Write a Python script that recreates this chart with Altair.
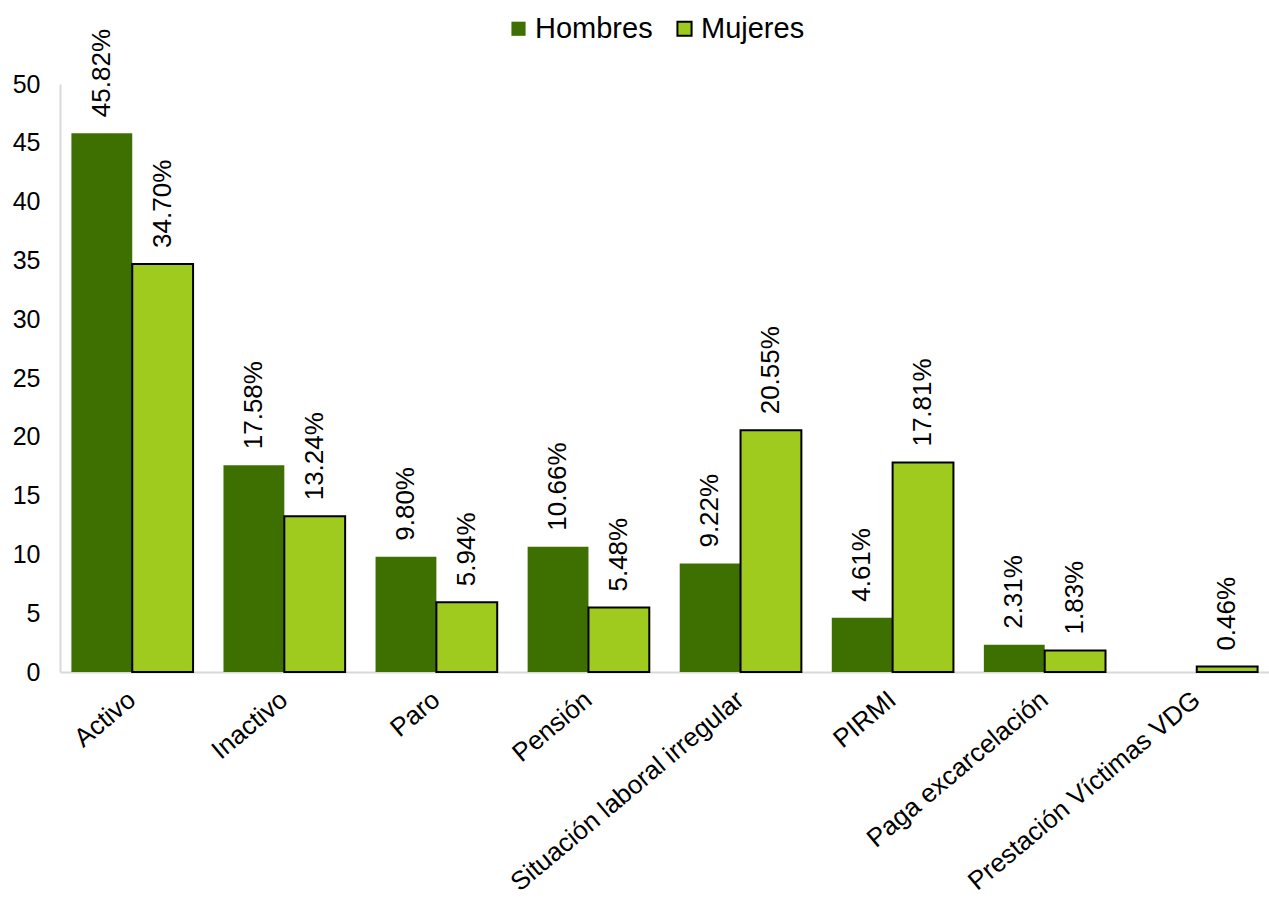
import altair as alt
import pandas as pd

categorias = ["Activo", "Inactivo", "Paro", "Pensión", "Situación laboral irregular",
              "PIRMI", "Paga excarcelación", "Prestación Víctimas VDG"]
hombres = [45.82, 17.58, 9.80, 10.66, 9.22, 4.61, 2.31, None]
mujeres = [34.70, 13.24, 5.94, 5.48, 20.55, 17.81, 1.83, 0.46]
series = ["Hombres", "Mujeres"]
colores = ["#3d7000", "#9ecb1e"]
bordes = ["transparent", "#000000"]

rows = []
for c, h, m in zip(categorias, hombres, mujeres):
    if h is not None:
        rows.append({"cat": c, "sexo": "Hombres", "valor": h})
    if m is not None:
        rows.append({"cat": c, "sexo": "Mujeres", "valor": m})
df = pd.DataFrame(rows)

FONT = "Liberation Sans"

xenc = alt.X("cat:N", sort=categorias, title=None,
             scale=alt.Scale(paddingInner=0.2, paddingOuter=0.075),
             axis=alt.Axis(labelAngle=-40, labelAlign="right", labelBaseline="middle",
                           labelFontSize=26, labelPadding=24, ticks=False,
                           domainColor="#d9d9d9", domainWidth=2, labelColor="#000",
                           labelFont=FONT, labelOverlap=False, labelLimit=0))
xoff = alt.XOffset("sexo:N", sort=series, scale=alt.Scale(paddingInner=0, paddingOuter=0))
yenc = alt.Y("valor:Q", title=None,
             scale=alt.Scale(domain=[0, 50], nice=False),
             axis=alt.Axis(values=list(range(0, 51, 5)), grid=False, ticks=False,
                           domainColor="#d9d9d9", domainWidth=2, labelFontSize=25,
                           labelFont=FONT, labelColor="#000", labelPadding=20))

leg = alt.Legend(title=None, orient="none", legendX=444, legendY=-70, direction="horizontal",
                 symbolType="square", symbolSize=200,
                 labelFontSize=29, labelFont=FONT, labelColor="#000",
                 columnPadding=17, symbolStrokeWidth=2, labelOffset=2)

bars = alt.Chart(df).mark_bar(strokeWidth=2).encode(
    x=xenc, xOffset=xoff, y=yenc,
    color=alt.Color("sexo:N", sort=series, scale=alt.Scale(domain=series, range=colores), legend=leg),
    stroke=alt.Stroke("sexo:N", sort=series, scale=alt.Scale(domain=series, range=bordes), legend=leg),
)

labels = alt.Chart(df).transform_calculate(
    t="format(datum.valor, '.2f') + '%'"
).mark_text(angle=270, align="left", baseline="middle", dx=16,
            fontSize=26, font=FONT, color="#000").encode(
    x=alt.X("cat:N", sort=categorias), xOffset=xoff, y="valor:Q",
    text="t:N",
)

chart = alt.layer(bars, labels).properties(
    width=1209, height=588,
    padding={"left": 60, "top": 84, "right": 0, "bottom": 227},
    autosize=alt.AutoSizeParams(type="none"),
).configure_view(stroke=None)

chart.save("out.html", embed_options={"renderer": "svg", "actions": False})
